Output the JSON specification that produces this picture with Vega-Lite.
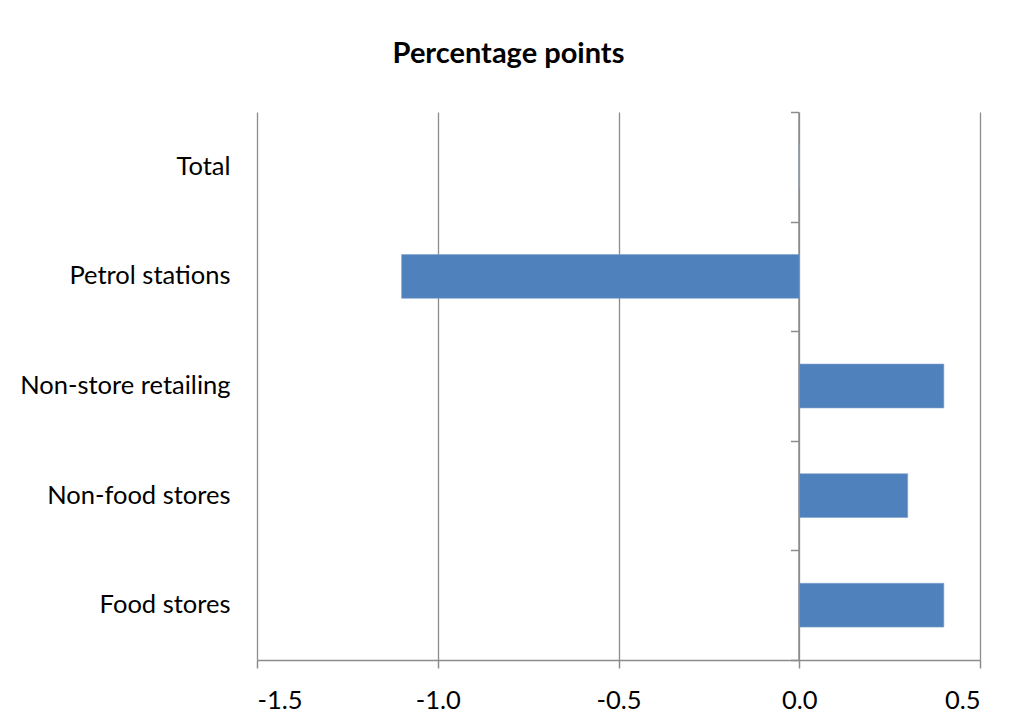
{
  "$schema": "https://vega.github.io/schema/vega-lite/v6.json",
  "autosize": {"type": "none"},
  "width": 723,
  "height": 548,
  "padding": {"left": 257, "top": 112, "right": 53, "bottom": 57},
  "background": "white",
  "title": {
    "text": "Percentage points",
    "font": "Lato",
    "fontSize": 29,
    "fontWeight": "bold",
    "color": "#000000",
    "anchor": "middle",
    "dx": -110,
    "offset": 42
  },
  "config": {
    "view": {"stroke": null},
    "axis": {"labelFont": "Lato", "labelColor": "#000000", "labelFontSize": 25.5, "labelLimit": 0, "titleFont": "Lato"}
  },
  "resolve": {"axis": {"y": "independent"}, "scale": {"y": "independent"}},
  "data": {
    "values": [
      {"category": "Total", "value": 0},
      {"category": "Petrol stations", "value": -1.1},
      {"category": "Non-store retailing", "value": 0.4},
      {"category": "Non-food stores", "value": 0.3},
      {"category": "Food stores", "value": 0.4}
    ]
  },
  "layer": [
    {
      "mark": {"type": "bar", "color": "#4F81BD", "stroke": "#7FA2CE", "strokeWidth": 0.6},
      "encoding": {
        "y": {
          "field": "category",
          "type": "nominal",
          "sort": null,
          "scale": {"paddingInner": 0.6, "paddingOuter": 0.3},
          "axis": {
            "title": null,
            "orient": "left",
            "domain": false,
            "ticks": false,
            "labelPadding": 27,
            "labelLimit": 0
          }
        },
        "x": {
          "field": "value",
          "type": "quantitative",
          "scale": {"domain": [-1.5, 0.5], "nice": false, "zero": false},
          "axis": {
            "title": null,
            "values": [-1.5, -1, -0.5, 0, 0.5],
            "labelExpr": "replace(format(datum.value, '.1f'), '\u2212', '-')",
            "grid": true,
            "gridColor": "#8C8C8C",
            "gridWidth": 1.3,
            "domainColor": "#8C8C8C",
            "domainWidth": 1.5,
            "tickColor": "#8C8C8C",
            "tickWidth": 1.5,
            "tickSize": 8,
            "labelPadding": 20
          }
        }
      }
    },
    {
      "mark": {"type": "bar", "opacity": 0},
      "encoding": {
        "y": {
          "field": "category",
          "type": "nominal",
          "sort": null,
          "scale": {"paddingInner": 0, "paddingOuter": 0},
          "axis": {
            "title": null,
            "orient": "right",
            "labels": false,
            "grid": false,
            "domain": true,
            "domainColor": "#8C8C8C",
            "domainWidth": 1.5,
            "ticks": true,
            "tickBand": "extent",
            "tickSize": -8,
            "tickColor": "#8C8C8C",
            "tickWidth": 1.5,
            "offset": -181.5
          }
        },
        "x": {"field": "value", "type": "quantitative"}
      }
    }
  ]
}
